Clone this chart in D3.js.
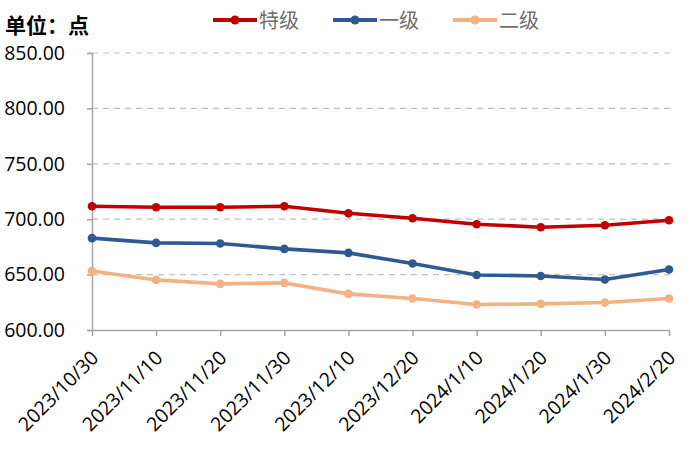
<!DOCTYPE html>
<html><head><meta charset="utf-8">
<script src="https://cdn.jsdelivr.net/npm/d3@7"></script>
<style>body{margin:0;background:#fff;} svg{display:block;}</style>
</head><body>
<script>
const categories = ["2023/10/30","2023/11/10","2023/11/20","2023/11/30","2023/12/10","2023/12/20","2024/1/10","2024/1/20","2024/1/30","2024/2/20"];
const seriesNames = ["特级","一级","二级"];
const teji = [711.7,710.8,710.8,711.7,705.3,700.9,695.5,692.8,694.6,699.1];
const yiji = [682.9,678.6,678.1,673.2,669.6,660.0,649.7,648.8,645.6,654.6];
const erji = [653.3,645.2,641.6,642.5,632.6,628.4,623.0,623.6,624.8,628.4];
const yTicks = [600,650,700,750,800,850];
const colors = ["#C00000","#2E5A92","#F4B183"];
const seriesData = [teji, yiji, erji];

const W = 700, H = 468;
const svg = d3.select("body").append("svg").attr("width", W).attr("height", H);
const x = d3.scalePoint().domain(categories).range([92, 669]);
const y = d3.scaleLinear().domain([600, 850]).range([330, 53]);
const font = "'Open Sans', 'Noto Sans CJK SC', sans-serif";

// gridlines
svg.append("g").selectAll("line").data(yTicks.filter(d => d !== 600)).join("line")
  .attr("x1", 92).attr("x2", 672).attr("y1", d => y(d)).attr("y2", d => y(d))
  .attr("stroke", "#BFBFBF").attr("stroke-width", 1.2).attr("stroke-dasharray", "6,5");

// y axis
const yAxis = svg.append("g").attr("transform", "translate(92,0)")
  .call(d3.axisLeft(y).tickValues(yTicks).tickSize(5).tickFormat(d3.format(".2f")));
yAxis.select(".domain").attr("stroke", "#A6A6A6").attr("stroke-width", 1.5);
yAxis.selectAll(".tick line").attr("stroke", "#A6A6A6").attr("stroke-width", 1.5);
yAxis.selectAll("text").attr("x", -27).attr("font-size", 19.5).attr("font-family", font).attr("fill", "#000");

// x axis
const xAxis = svg.append("g").attr("transform", "translate(0,330)")
  .call(d3.axisBottom(x).tickSize(6).tickSizeOuter(0));
xAxis.select(".domain").attr("stroke", "#A6A6A6").attr("stroke-width", 1.5);
xAxis.selectAll(".tick line").attr("stroke", "#A6A6A6").attr("stroke-width", 1.5);
xAxis.selectAll("text").attr("font-size", 19.5).attr("font-family", font).attr("fill", "#000")
  .attr("text-anchor", "end").attr("dy", "0.35em")
  .attr("transform", "translate(-4,18) rotate(-45)");

// lines
const line = d3.line().x((d, i) => x(categories[i])).y(d => y(d));
seriesData.forEach((s, k) => {
  svg.append("path").datum(s).attr("d", line).attr("fill", "none")
    .attr("stroke", colors[k]).attr("stroke-width", 3.6).attr("stroke-linejoin", "round");
  svg.append("g").selectAll("circle").data(s).join("circle")
    .attr("cx", (d, i) => x(categories[i])).attr("cy", d => y(d)).attr("r", 4.3)
    .attr("fill", colors[k]);
});

// title
svg.append("text").attr("x", 5).attr("y", 33).text("单位：点")
  .attr("font-size", 21).attr("font-weight", "bold").attr("font-family", "'Noto Sans CJK SC', sans-serif");

// legend
const legX = [213, 333, 453];
seriesNames.forEach((n, k) => {
  const g = svg.append("g");
  g.append("line").attr("x1", legX[k]).attr("x2", legX[k] + 44).attr("y1", 20).attr("y2", 20)
    .attr("stroke", colors[k]).attr("stroke-width", 4);
  g.append("circle").attr("cx", legX[k] + 22).attr("cy", 20).attr("r", 4.5).attr("fill", colors[k]);
  g.append("text").attr("x", legX[k] + 46).attr("y", 28).text(n)
    .attr("font-size", 20).attr("fill", "#6E6E6E").attr("font-family", "'Noto Sans CJK SC', sans-serif");
});
</script>
</body></html>
